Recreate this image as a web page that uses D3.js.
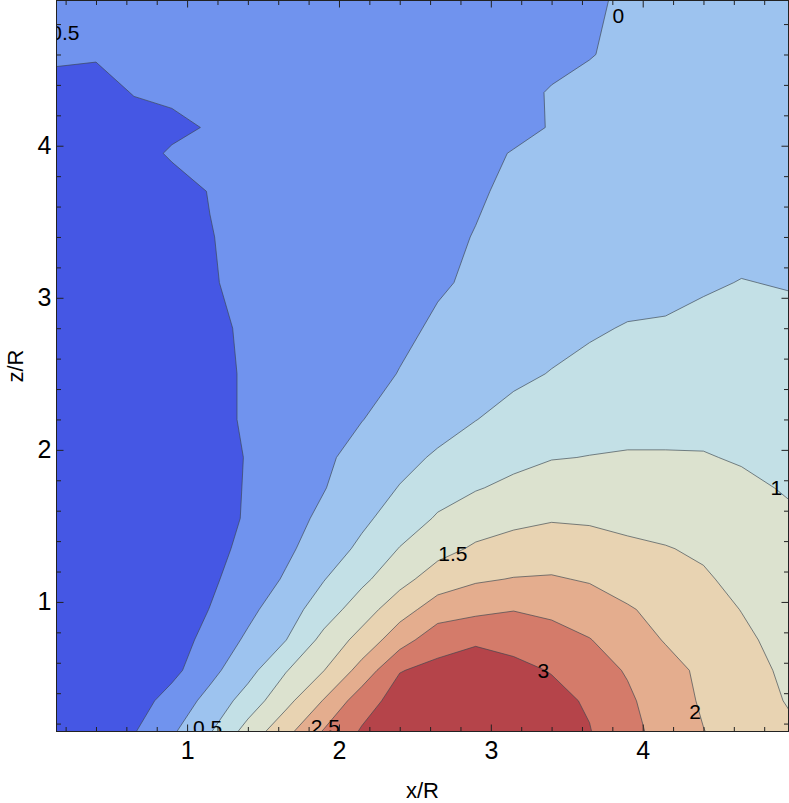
<!DOCTYPE html>
<html>
<head>
<meta charset="utf-8">
<script src="https://cdn.jsdelivr.net/npm/d3@7"></script>
<style>
  body { margin: 0; background: #fff; }
  svg { display: block; font-family: "Liberation Sans", Arial, sans-serif; }
</style>
</head>
<body>
<svg id="chart"></svg>
<script>
// sample positions of the grid (x/R across, z/R up)
const xs = [0.14, 0.4, 0.65, 0.9, 1.15, 1.4, 1.65, 1.9, 2.15, 2.4, 2.65, 2.9, 3.15, 3.4, 3.65, 3.9, 4.15, 4.4, 4.65, 4.96];
const zs = [0.148, 0.35, 0.55, 0.75, 0.95, 1.15, 1.35, 1.55, 1.75, 1.95, 2.2, 2.5, 2.8, 3.1, 3.4, 3.7, 3.95, 4.12, 4.35, 4.6, 4.955];

// values, one row per z (bottom row first)
const values = [
  [-0.75, -0.68, -0.53, -0.07, 0.46, 1.19, 1.85, 2.54, 3.05, 3.2, 3.3, 3.35, 3.3, 3.2, 3.02, 2.65, 2.32, 2.01, 1.81, 1.58],
  [-0.82, -0.8, -0.74, -0.30, 0.15, 0.72, 1.35, 2.03, 2.78, 3.2, 3.25, 3.28, 3.22, 3.12, 2.95, 2.58, 2.24, 1.94, 1.73, 1.47],
  [-0.82, -0.8, -0.75, -0.64, -0.14, 0.33, 0.97, 1.49, 2.18, 2.98, 3.12, 3.15, 3.1, 2.98, 2.71, 2.46, 2.17, 1.90, 1.66, 1.42],
  [-0.83, -0.82, -0.8, -0.75, -0.33, 0.08, 0.49, 1.14, 1.68, 2.28, 2.82, 2.96, 2.88, 2.69, 2.52, 2.24, 1.97, 1.78, 1.59, 1.34],
  [-0.85, -0.84, -0.83, -0.78, -0.49, -0.12, 0.28, 0.75, 1.26, 1.80, 2.23, 2.37, 2.48, 2.40, 2.24, 2.04, 1.87, 1.68, 1.49, 1.27],
  [-0.85, -0.84, -0.82, -0.76, -0.58, -0.28, 0.05, 0.48, 0.89, 1.33, 1.75, 1.94, 2.02, 2.04, 1.96, 1.82, 1.67, 1.55, 1.39, 1.19],
  [-0.86, -0.85, -0.83, -0.78, -0.65, -0.38, -0.09, 0.24, 0.60, 1.02, 1.33, 1.57, 1.69, 1.76, 1.69, 1.58, 1.52, 1.44, 1.28, 1.12],
  [-0.87, -0.86, -0.84, -0.8, -0.7, -0.45, -0.18, 0.10, 0.40, 0.72, 1.05, 1.25, 1.38, 1.46, 1.44, 1.39, 1.35, 1.30, 1.17, 1.05],
  [-0.87, -0.86, -0.83, -0.78, -0.66, -0.47, -0.24, -0.02, 0.26, 0.52, 0.80, 0.97, 1.10, 1.22, 1.23, 1.22, 1.19, 1.17, 1.07, 0.97],
  [-0.87, -0.86, -0.84, -0.79, -0.65, -0.48, -0.27, -0.07, 0.14, 0.36, 0.56, 0.76, 0.88, 0.98, 1.01, 1.03, 1.03, 1.02, 0.97, 0.90],
  [-0.87, -0.86, -0.84, -0.8, -0.6, -0.46, -0.31, -0.16, -0.01, 0.16, 0.32, 0.49, 0.66, 0.77, 0.84, 0.88, 0.88, 0.90, 0.87, 0.81],
  [-0.87, -0.86, -0.85, -0.8, -0.6, -0.46, -0.34, -0.22, -0.10, 0.01, 0.14, 0.27, 0.40, 0.52, 0.63, 0.71, 0.71, 0.74, 0.74, 0.70],
  [-0.87, -0.86, -0.85, -0.8, -0.56, -0.46, -0.36, -0.26, -0.16, -0.06, 0.04, 0.14, 0.24, 0.34, 0.44, 0.53, 0.54, 0.59, 0.62, 0.59],
  [-0.87, -0.86, -0.85, -0.79, -0.52, -0.44, -0.36, -0.27, -0.19, -0.11, -0.03, 0.04, 0.11, 0.18, 0.25, 0.32, 0.39, 0.46, 0.51, 0.48],
  [-0.87, -0.86, -0.84, -0.76, -0.51, -0.43, -0.36, -0.28, -0.21, -0.13, -0.06, 0.01, 0.08, 0.14, 0.20, 0.26, 0.32, 0.37, 0.40, 0.39],
  [-0.86, -0.85, -0.82, -0.6, -0.49, -0.43, -0.36, -0.29, -0.23, -0.16, -0.09, -0.03, 0.05, 0.11, 0.17, 0.22, 0.27, 0.31, 0.34, 0.35],
  [-0.85, -0.8, -0.6, -0.47, -0.42, -0.37, -0.31, -0.26, -0.21, -0.16, -0.10, -0.05, 0.01, 0.06, 0.11, 0.16, 0.20, 0.24, 0.27, 0.29],
  [-0.84, -0.78, -0.66, -0.56, -0.48, -0.42, -0.37, -0.32, -0.26, -0.21, -0.16, -0.10, -0.05, 0.01, 0.07, 0.13, 0.18, 0.22, 0.25, 0.27],
  [-0.8, -0.66, -0.48, -0.45, -0.40, -0.36, -0.31, -0.27, -0.22, -0.18, -0.13, -0.09, -0.04, 0.01, 0.06, 0.11, 0.15, 0.19, 0.22, 0.24],
  [-0.36, -0.46, -0.41, -0.37, -0.34, -0.31, -0.28, -0.25, -0.22, -0.19, -0.16, -0.13, -0.09, -0.04, -0.01, 0.05, 0.10, 0.14, 0.17, 0.19],
  [-0.42, -0.41, -0.38, -0.35, -0.32, -0.29, -0.26, -0.23, -0.20, -0.17, -0.14, -0.11, -0.08, -0.05, -0.02, 0.02, 0.06, 0.10, 0.13, 0.15]
];

const levels = [-0.5, 0, 0.5, 1, 1.5, 2, 2.5, 3];
// one colour per band: below -0.5, then each level upward
const bandColors = ["#4557e4", "#7093ee", "#9dc3ef", "#c3e0e6", "#dce2cf", "#e8d3b2", "#e4ad8e", "#d47b6a", "#b5444a"];

const xTicks = [1, 2, 3, 4];
const zTicks = [1, 2, 3, 4];

// contour labels: level and where it sits
const labelLevels = [-0.5, 0, 0.5, 1, 1.5, 2, 2.5, 3];
const labelX = [0.155, 3.84, 1.135, 4.88, 2.75, 4.345, 1.91, 3.345];
const labelZ = [4.745, 4.86, 0.175, 1.75, 1.32, 0.28, 0.18, 0.55];

const width = 789;
const height = 803;
const plot = { left: 56.5, right: 788.5, top: 0.5, bottom: 731.5 };

const svg = d3.select("#chart").attr("width", width).attr("height", height);

const x = d3.scaleLinear().domain([xs[0], xs[xs.length - 1]]).range([plot.left, plot.right]);
const y = d3.scaleLinear().domain([zs[0], zs[zs.length - 1]]).range([plot.bottom, plot.top]);

// grid index -> data coordinate (grid is not evenly spaced)
const ix = d3.scaleLinear().domain(d3.range(xs.length)).range(xs).clamp(true);
const iz = d3.scaleLinear().domain(d3.range(zs.length)).range(zs).clamp(true);

const contours = d3.contours()
  .size([xs.length, zs.length])
  .thresholds(levels)(values.flat());

const project = d3.geoTransform({
  point(c, r) {
    this.stream.point(x(ix(c - 0.5)), y(iz(r - 0.5)));
  }
});
const path = d3.geoPath(project);

svg.append("clipPath").attr("id", "clip")
  .append("rect")
  .attr("x", plot.left).attr("y", plot.top)
  .attr("width", plot.right - plot.left).attr("height", plot.bottom - plot.top);

const g = svg.append("g").attr("clip-path", "url(#clip)");

// lowest band fills the whole plot
g.append("rect")
  .attr("x", plot.left).attr("y", plot.top)
  .attr("width", plot.right - plot.left).attr("height", plot.bottom - plot.top)
  .attr("fill", bandColors[0]);

g.selectAll("path.band")
  .data(contours)
  .join("path")
  .attr("class", "band")
  .attr("d", path)
  .attr("fill", (d, i) => bandColors[i + 1]);

g.selectAll("path.line")
  .data(contours)
  .join("path")
  .attr("class", "line")
  .attr("d", path)
  .attr("fill", "none")
  .attr("stroke", "#3c4650")
  .attr("stroke-opacity", 0.65)
  .attr("stroke-width", 1);

// contour labels
g.selectAll("text.clabel")
  .data(labelLevels)
  .join("text")
  .attr("class", "clabel")
  .attr("x", (d, i) => x(labelX[i]))
  .attr("y", (d, i) => y(labelZ[i]))
  .attr("dy", "0.36em")
  .attr("text-anchor", "middle")
  .attr("font-size", 21)
  .attr("fill", "#000")
  .text(d => d3.format("")(d));

// ticks, all pointing inward
const minorX = d3.range(0.2, 4.9, 0.2).filter(v => Math.abs(v - Math.round(v)) > 1e-6);
const minorZ = minorX;

function styleAxis(sel) {
  sel.select(".domain").remove();
  sel.selectAll(".tick line").attr("stroke", "#222");
  sel.selectAll(".tick text").attr("fill", "#000");
}

svg.append("g")
  .attr("transform", `translate(0,${plot.bottom})`)
  .call(d3.axisBottom(x).tickValues(xTicks).tickSize(-7).tickPadding(10).tickFormat(d3.format("d")))
  .attr("font-size", 25).attr("font-family", null)
  .call(styleAxis);
svg.append("g")
  .attr("transform", `translate(0,${plot.bottom})`)
  .call(d3.axisBottom(x).tickValues(minorX).tickSize(-4.5).tickFormat(""))
  .call(styleAxis);
svg.append("g")
  .attr("transform", `translate(0,${plot.top})`)
  .call(d3.axisTop(x).tickValues(xTicks).tickSize(-7).tickFormat(""))
  .call(styleAxis);
svg.append("g")
  .attr("transform", `translate(0,${plot.top})`)
  .call(d3.axisTop(x).tickValues(minorX).tickSize(-4.5).tickFormat(""))
  .call(styleAxis);

svg.append("g")
  .attr("transform", `translate(${plot.left},0)`)
  .call(d3.axisLeft(y).tickValues(zTicks).tickSize(-7).tickPadding(5).tickFormat(d3.format("d")))
  .attr("font-size", 25).attr("font-family", null)
  .call(styleAxis);
svg.append("g")
  .attr("transform", `translate(${plot.left},0)`)
  .call(d3.axisLeft(y).tickValues(minorZ).tickSize(-4.5).tickFormat(""))
  .call(styleAxis);
svg.append("g")
  .attr("transform", `translate(${plot.right},0)`)
  .call(d3.axisRight(y).tickValues(zTicks).tickSize(-7).tickFormat(""))
  .call(styleAxis);
svg.append("g")
  .attr("transform", `translate(${plot.right},0)`)
  .call(d3.axisRight(y).tickValues(minorZ).tickSize(-4.5).tickFormat(""))
  .call(styleAxis);

// frame
svg.append("rect")
  .attr("x", plot.left).attr("y", plot.top)
  .attr("width", plot.right - plot.left).attr("height", plot.bottom - plot.top)
  .attr("fill", "none")
  .attr("stroke", "#222")
  .attr("stroke-width", 1);

// axis titles
svg.append("text")
  .attr("x", (plot.left + plot.right) / 2)
  .attr("y", 798)
  .attr("text-anchor", "middle")
  .attr("font-size", 22)
  .text("x/R");

svg.append("text")
  .attr("transform", `translate(23,${(plot.top + plot.bottom) / 2}) rotate(-90)`)
  .attr("text-anchor", "middle")
  .attr("font-size", 22)
  .text("z/R");
</script>
</body>
</html>
